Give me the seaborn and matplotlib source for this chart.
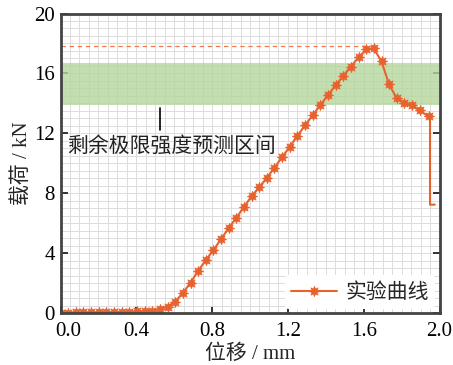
import numpy as np
import pandas as pd
import matplotlib
matplotlib.use("Agg")
import matplotlib.pyplot as plt
import matplotlib.transforms as mtransforms
from matplotlib.ticker import MultipleLocator
import seaborn as sns

# Load-displacement test curve (markers at every measured point, then the failure tail)
disp_mm = [0.000, 0.040, 0.081, 0.121, 0.161, 0.202, 0.242, 0.282, 0.323, 0.363,
           0.403, 0.444, 0.484, 0.525, 0.565, 0.605, 0.645, 0.686, 0.726, 0.766,
           0.807, 0.847, 0.887, 0.928, 0.968, 1.008, 1.049, 1.089, 1.129, 1.170,
           1.210, 1.250, 1.291, 1.331, 1.371, 1.411, 1.452, 1.492, 1.532, 1.573,
           1.613, 1.653, 1.694, 1.734, 1.774, 1.815, 1.855, 1.895, 1.942]
load_kN = [0.05, 0.05, 0.06, 0.06, 0.07, 0.07, 0.08, 0.09, 0.10, 0.11,
           0.13, 0.15, 0.18, 0.30, 0.45, 0.78, 1.35, 2.04, 2.82, 3.54,
           4.22, 4.95, 5.67, 6.38, 7.10, 7.80, 8.42, 9.04, 9.71, 10.44,
           11.11, 11.84, 12.55, 13.22, 13.89, 14.55, 15.22, 15.84, 16.46, 17.07,
           17.60, 17.67, 16.80, 15.27, 14.35, 14.05, 13.87, 13.54, 13.13]
tail_disp = [1.950, 1.950, 1.975]
tail_load = [12.95, 7.25, 7.25]

peak_load = 17.8          # dashed reference at the peak load
peak_disp = 1.66
band_low, band_high = 13.9, 16.7   # predicted residual ultimate strength range
band_label = "剩余极限强度预测区间"
series_label = "实验曲线"
x_ticks = [0.0, 0.4, 0.8, 1.2, 1.6, 2.0]
y_ticks = [0, 4, 8, 12, 16, 20]

sns.set_theme(style="ticks")
plt.rcParams["font.family"] = ["Liberation Serif", "Noto Sans CJK SC"]
plt.rcParams["axes.unicode_minus"] = False

curve = pd.DataFrame({"位移": disp_mm + tail_disp, "载荷": load_kN + tail_load})

fig = plt.figure(figsize=(4.53, 3.65), dpi=100)
ax = fig.add_axes([0.1336, 0.1416, 0.8366, 0.8214])

ax.set_xlim(0, 2.0)
ax.set_ylim(0, 20)

# fine background grid
ax.xaxis.set_minor_locator(MultipleLocator(0.05))
ax.yaxis.set_minor_locator(MultipleLocator(0.5))
ax.grid(which="both", color="#dcdcdc", linewidth=0.7, zorder=0)
ax.set_axisbelow(True)

ax.axhspan(band_low, band_high, color="#b5d69c", alpha=0.8, lw=0, zorder=1)
ax.plot([0, peak_disp], [peak_load, peak_load], ls=(0, (3.5, 3)), color="#f27a4a",
        lw=0.9, zorder=2)

orange = "#e8622e"
sns.lineplot(data=curve, x="位移", y="载荷", ax=ax, estimator=None, sort=False,
             color=orange, lw=1.5, marker=(8, 1, 0), markersize=7.5,
             markeredgewidth=0.5, markeredgecolor=orange, markerfacecolor=orange,
             markevery=list(range(len(disp_mm))), label=series_label, zorder=3)

# annotation of the prediction band
ax.plot([0.525, 0.525], [12.2, 13.7], color="black", lw=1.2, zorder=4)
ax.text(0.035, 11.2, band_label, fontsize=15, va="center", ha="left",
        family=["Noto Sans CJK SC"], color="#222222", zorder=4)

ax.set_xticks(x_ticks)
ax.set_yticks(y_ticks)
ax.set_xticklabels([f"{v:.1f}" for v in x_ticks])
ax.set_yticklabels([str(v) for v in y_ticks])
ax.tick_params(which="major", direction="in", length=5, width=1.4, labelsize=15,
               colors="#333333", labelcolor="black", right=True)
ax.tick_params(axis="x", which="major", pad=6)
ax.tick_params(axis="y", which="major", pad=4)
ax.tick_params(which="minor", length=0)
for lbl in ax.get_xticklabels():
    lbl.set_fontfamily(["Liberation Serif"])
for lbl in ax.get_yticklabels():
    lbl.set_fontfamily(["Liberation Serif"])
first = ax.get_xticklabels()[0]
first.set_transform(first.get_transform() +
                    mtransforms.ScaledTranslation(8 / 100, 0, fig.dpi_scale_trans))

for sp in ax.spines.values():
    sp.set_color("#444444")
    sp.set_linewidth(2.0)
    sp.set_zorder(5)

ax.set_xlabel("位移 / mm", fontsize=15, labelpad=3)
ax.set_ylabel("载荷 / kN", fontsize=15, labelpad=2)

leg = ax.legend(loc="lower right", fontsize=15, frameon=True, facecolor="white",
                edgecolor="white", framealpha=1.0, handlelength=2.2,
                borderaxespad=0.2, handletextpad=0.4, borderpad=0.3)
leg.get_frame().set_linewidth(0)
for t in leg.get_texts():
    t.set_fontfamily(["Noto Sans CJK SC"])

fig.savefig("out.png", dpi=100)
